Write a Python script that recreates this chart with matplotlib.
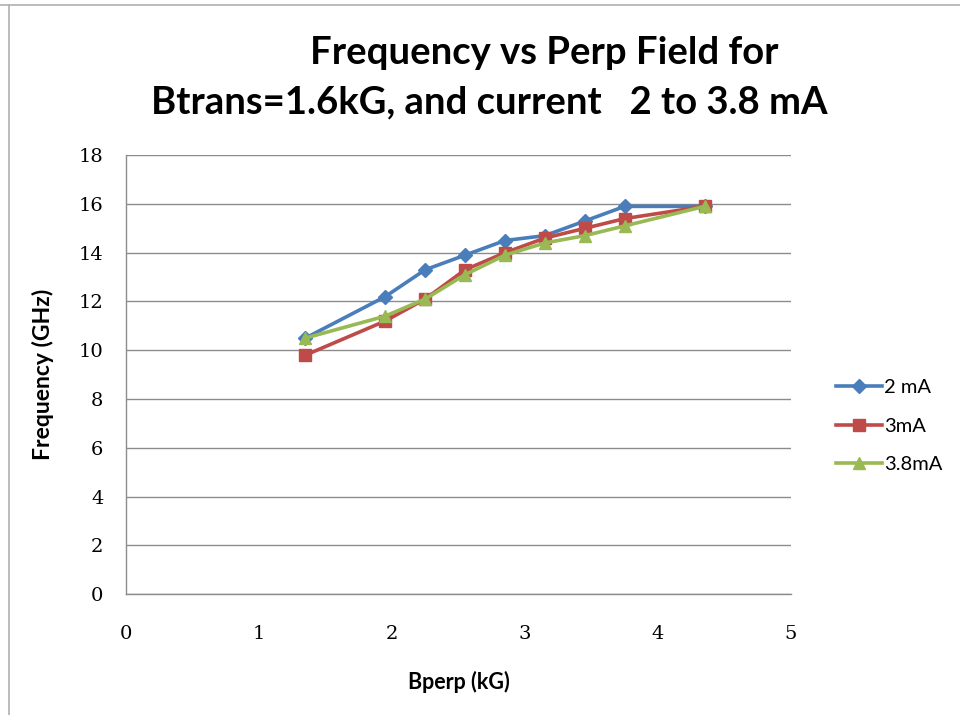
import matplotlib
matplotlib.use("Agg")
import matplotlib.pyplot as plt
from matplotlib.lines import Line2D

# Bperp (kG) and frequency (GHz) per current
bperp = [1.35, 1.95, 2.25, 2.55, 2.85, 3.15, 3.45, 3.75, 4.35]
f_2mA = [10.5, 12.2, 13.3, 13.9, 14.5, 14.7, 15.3, 15.9, 15.9]
f_3mA = [9.8, 11.2, 12.1, 13.3, 14.0, 14.6, 15.0, 15.4, 15.9]
f_38mA = [10.5, 11.4, 12.1, 13.1, 13.9, 14.4, 14.7, 15.1, 15.9]
labels = ["2 mA", "3mA", "3.8mA"]

colors = ["#4a7ebb", "#be4b48", "#98b954"]
markers = ["D", "s", "^"]
msizes = [7, 9, 9]

sans = ["Lato", "DejaVu Sans"]

fig = plt.figure(figsize=(9.6, 7.15), dpi=100)
ax = fig.add_axes([0.131, 0.169, 0.693, 0.614])

for ys, lab, c, m, ms in zip([f_2mA, f_3mA, f_38mA], labels, colors, markers, msizes):
    ax.plot(bperp, ys, color=c, marker=m, markersize=ms, linewidth=2.6, label=lab,
            markeredgecolor=c)

ax.set_xlim(0, 5)
ax.set_ylim(0, 18)
ax.set_xticks(range(0, 6))
ax.set_yticks(range(0, 19, 2))
ax.yaxis.grid(True, color="#8c8c8c", linewidth=1.0)
ax.set_axisbelow(True)
for s in ["top", "right"]:
    ax.spines[s].set_visible(False)
for s in ["left", "bottom"]:
    ax.spines[s].set_color("#8c8c8c")
    ax.spines[s].set_linewidth(1.0)
ax.tick_params(length=0, labelsize=14, pad=16)
for t in ax.get_xticklabels() + ax.get_yticklabels():
    t.set_family("DejaVu Serif")
ax.tick_params(axis="x", pad=22)

ax.set_xlabel("Bperp (kG)", fontsize=15.5, fontweight="bold", family=sans, labelpad=20)
ax.set_ylabel("Frequency (GHz)", fontsize=16.5, fontweight="bold", family=sans, labelpad=18)

fig.text(0.567, 0.926, "Frequency vs Perp Field for", ha="center", va="center",
         fontsize=27.5, fontweight="bold", family=sans)
fig.text(0.51, 0.857, "Btrans=1.6kG, and current   2 to 3.8 mA", ha="center", va="center",
         fontsize=27.5, fontweight="bold", family=sans)

ax.legend(loc="center left", bbox_to_anchor=(1.052, 0.383), frameon=False,
          prop={"family": sans, "size": 14.5},
          handlelength=2.3, labelspacing=1.05, handletextpad=0.1, borderpad=0)

# light frame around the figure (top and left edges visible)
fig.add_artist(Line2D([0.0, 1.0], [0.993, 0.993], transform=fig.transFigure,
                      color="#b0b0b0", linewidth=1.2))
fig.add_artist(Line2D([0.009, 0.009], [0.0, 0.993], transform=fig.transFigure,
                      color="#b0b0b0", linewidth=1.2))

fig.savefig("out.png", dpi=100)
